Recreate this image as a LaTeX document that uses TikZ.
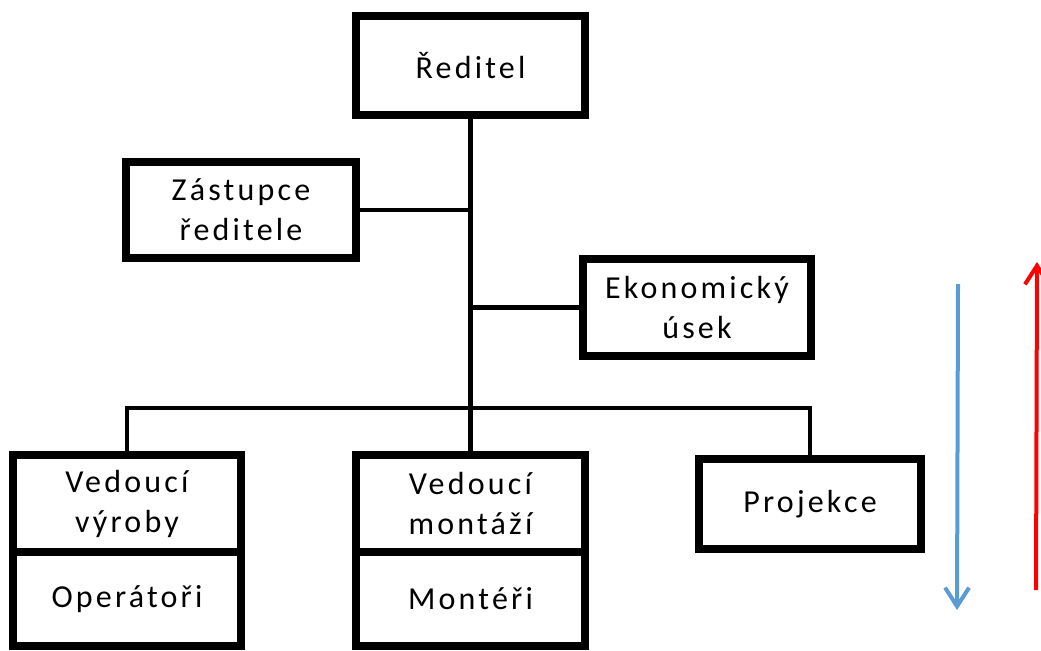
\documentclass[tikz,border=0pt]{standalone}
\usepackage{fontspec}
\setmainfont{Carlito}[LetterSpace=10]
\usetikzlibrary{arrows.meta}
\begin{document}
\begin{tikzpicture}[x=0.75pt,y=-0.75pt,
  box/.style={draw=black,line width=6pt,fill=white,inner sep=0pt,align=center,font=\fontsize{24}{30}\selectfont},
  conn/.style={draw=black,line width=3.2pt},
  arr/.style={line width=3pt,-{Straight Barb[length=14pt,width=18pt,line width=3pt]}}]
\useasboundingbox (0,0) rectangle (1041,650);
\node[box,minimum width=229*0.75pt,minimum height=99*0.75pt] (red) at (470.5,65.5) {Ředitel};
\node[box,minimum width=230*0.75pt,minimum height=96*0.75pt] (zas) at (241,210) {Zástupce\\ředitele};
\node[box,minimum width=228*0.75pt,minimum height=97*0.75pt] (eko) at (697,307.5) {Ekonomický\\úsek};
\node[box,minimum width=222*0.75pt,minimum height=90*0.75pt] (pro) at (810,504) {Projekce};
\node[box,minimum width=228*0.75pt,minimum height=97*0.75pt] (vv) at (127,503.5) {Vedoucí\\výroby};
\node[box,minimum width=228*0.75pt,minimum height=94*0.75pt] (op) at (127,599) {Operátoři};
\node[box,minimum width=229*0.75pt,minimum height=97*0.75pt] (vm) at (470.5,503.5) {Vedoucí\\montáží};
\node[box,minimum width=229*0.75pt,minimum height=94*0.75pt] (mo) at (470.5,599) {Montéři};
\coordinate (bus) at (470.5,408);
\coordinate (jz) at (470.5,211);
\coordinate (je) at (470.5,310);
\draw[conn] (red.south) -- (bus);
\draw[conn] (zas.east) -- (zas.east -| jz);
\draw[conn] (eko.west) -- (eko.west -| je);
\draw[conn] (vv.north) |- (bus) -| (pro.north);
\draw[conn] (bus) -- (vm.north);
\coordinate (b1) at (958,284);
\coordinate (b2) at (957,610);
\coordinate (r1) at (1036,590);
\coordinate (r2) at (1037,262);
\draw[arr,draw={rgb,255:red,91;green,155;blue,213}] (b1) -- (b2);
\draw[arr,draw=red] (r1) -- (r2);
\end{tikzpicture}
\end{document}
